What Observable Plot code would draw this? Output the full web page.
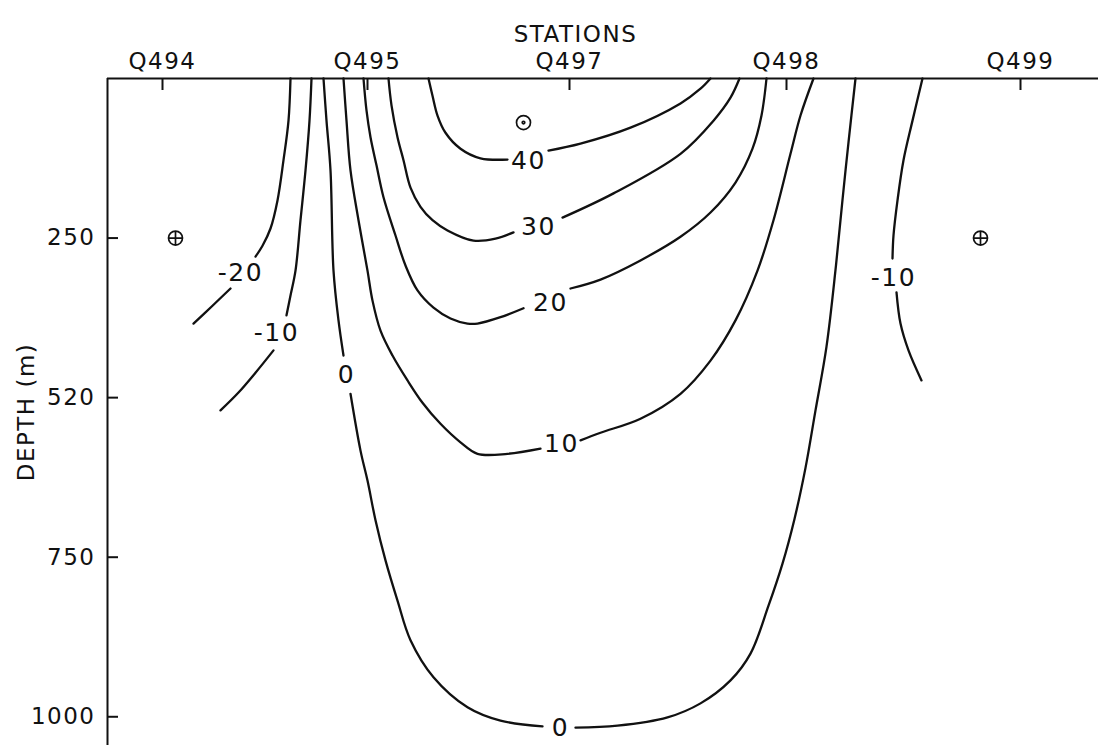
<!DOCTYPE html>
<html>
<head>
<meta charset="utf-8">
<script src="https://cdn.jsdelivr.net/npm/d3@7"></script>
<script src="https://cdn.jsdelivr.net/npm/@observablehq/plot@0.6"></script>
<style>
  html, body { margin: 0; padding: 0; background: #fff; }
  #chart svg { display: block; }
</style>
</head>
<body>
<div id="chart"></div>
<script>
// ---- stations (top axis) ----
const stationNames = ["Q494", "Q495", "Q497", "Q498", "Q499"];
const stationPos   = [0, 205, 407, 624, 858];

// ---- depth axis ----
const depthTicks      = [250, 500, 750, 1000];
const depthTickLabels = ["250", "520", "750", "1000"];

// ---- contour lines: [distance, depth]; null = gap for the label ----
const cMinus20 = [[128,0],[126,66],[121,128],[115,191],[108,235],[100,262],[93,279], null,
                  [68,329],[50,356],[31,384]];
const cMinus10L = [[149,0],[147,66],[143,144],[138,222],[133,301],[128,340],[124,371], null,
                   [111,426],[93,461],[76,492],[58,520]];
const cZero = [[161,0],[164,66],[168,144],[171,301],[176,379],[181,434], null,
               [188,494],[198,583],[205,630],[213,692],[223,755],[235,818],[248,880],[271,938],[305,985],[338,1006],[380,1015], null,
               [413,1017],[455,1014],[505,1001],[538,979],[568,943],[588,901],[606,826],[620,760],[632,690],[643,610],[653,520],[664,420],[673,300],[680,190],[686,100],[693,0]];
const cTen = [[181,0],[184,66],[188,144],[196,222],[205,301],[210,348],[218,395],[230,434],[245,473],[260,508],[278,541],[298,570],[315,588],[345,588],[378,580], null,
              [418,567],[438,555],[478,533],[518,494],[548,442],[573,379],[595,301],[611,222],[628,118],[638,58],[651,0]];
const cTwenty = [[201,0],[204,50],[208,92],[214,136],[221,186],[233,246],[243,293],[255,332],[271,359],[288,376],[305,384],[315,384],[338,374],[361,360], null,
                 [408,329],[438,315],[478,285],[518,248],[548,210],[573,163],[590,110],[599,58],[604,0]];
const cThirty = [[226,0],[229,42],[235,92],[241,128],[248,171],[258,201],[270,222],[285,238],[311,254],[333,251],[351,241], null,
                 [400,218],[451,180],[518,118],[551,66],[568,30],[577,0]];
const cForty = [[266,0],[270,27],[275,58],[283,85],[298,110],[318,125],[345,127], null,
                [386,113],[418,102],[468,77],[518,39],[538,16],[548,0]];
const cMinus10R = [[760,0],[750,66],[741,128],[735,191],[731,246],[730,282], null,
                   [734,335],[738,384],[746,426],[759,473]];

// ---- contour labels ----
const labelText  = ["40", "30", "20", "10", "0", "0", "-20", "-10", "-10"];
const labelX     = [366, 376, 388, 399, 398, 184, 78, 114, 731];
const labelDepth = [130, 232, 351, 573, 1017, 464, 304, 398, 312];

// ---- station symbols ----
const symType  = ["plus", "plus", "dot"];
const symX     = [13, 818, 361];
const symDepth = [250, 250, 69];

// build tables for the library
const contours = [
  ["m20", cMinus20], ["m10L", cMinus10L], ["z0", cZero], ["p10", cTen],
  ["p20", cTwenty], ["p30", cThirty], ["p40", cForty], ["m10R", cMinus10R]
];
const lineRows = contours.flatMap(([id, pts]) =>
  pts.map(p => p ? {id, x: p[0], depth: p[1]} : {id, x: null, depth: null}));
const labels = labelText.map((t, i) => ({t, x: labelX[i], depth: labelDepth[i]}));
const syms = symType.map((s, i) => ({s, x: symX[i], depth: symDepth[i]}));

const ink = "#111";
const circlePlus = {
  draw(ctx, size) {
    const r = Math.sqrt(size / Math.PI);
    ctx.moveTo(r, 0); ctx.arc(0, 0, r, 0, 2 * Math.PI);
    ctx.moveTo(-r, 0); ctx.lineTo(r, 0);
    ctx.moveTo(0, -r); ctx.lineTo(0, r);
  }
};
const circleDot = {
  draw(ctx, size) {
    const r = Math.sqrt(size / Math.PI);
    ctx.moveTo(r, 0); ctx.arc(0, 0, r, 0, 2 * Math.PI);
    ctx.moveTo(1.3, 0); ctx.arc(0, 0, 1.3, 0, 2 * Math.PI);
  }
};

const W = 1098, H = 745, mL = 107, mT = 78;
const frameW = W - mL, frameH = H - mT;

const chart = Plot.plot({
  width: W, height: H,
  marginLeft: mL, marginRight: 0, marginTop: mT, marginBottom: 0,
  style: {fontFamily: "'DejaVu Sans', sans-serif", color: ink, background: "#fff", letterSpacing: "1.5px"},
  x: {domain: [-55, 936]},
  y: {domain: [0, 1045], reverse: true},
  marks: [
    // frame (left and top edges)
    Plot.ruleX([-55], {stroke: ink, strokeWidth: 2}),
    Plot.ruleY([0], {stroke: ink, strokeWidth: 2}),
    // inward ticks
    Plot.ruleX(stationPos, {stroke: ink, strokeWidth: 2, insetBottom: frameH - 12}),
    Plot.ruleY(depthTicks, {stroke: ink, strokeWidth: 2, insetRight: frameW - 11}),
    Plot.axisX(stationPos, {
      anchor: "top", tickSize: 0, tickPadding: 10, fontSize: 23,
      tickFormat: d => stationNames[stationPos.indexOf(d)], label: null
    }),
    Plot.axisY(depthTicks, {
      anchor: "left", tickSize: 0, tickPadding: 12, fontSize: 23,
      tickFormat: d => depthTickLabels[depthTicks.indexOf(d)],
      label: "DEPTH (m)", labelAnchor: "center", labelOffset: 90, labelArrow: false
    }),
    Plot.text(["STATIONS"], {x: 413, frameAnchor: "top", dy: -53, fontSize: 23, text: d => d}),
    // contours
    Plot.line(lineRows, {x: "x", y: "depth", z: "id", curve: "catmull-rom", stroke: ink, strokeWidth: 2.3}),
    Plot.text(labels, {x: "x", y: "depth", text: "t", fontSize: 25, fill: ink}),
    // symbols
    Plot.dot(syms.filter(d => d.s === "plus"), {x: "x", y: "depth", r: 7, symbol: circlePlus, fill: "none", stroke: ink, strokeWidth: 1.7}),
    Plot.dot(syms.filter(d => d.s === "dot"), {x: "x", y: "depth", r: 7, symbol: circleDot, fill: "none", stroke: ink, strokeWidth: 1.7})
  ]
});
document.getElementById("chart").appendChild(chart);
</script>
</body>
</html>
